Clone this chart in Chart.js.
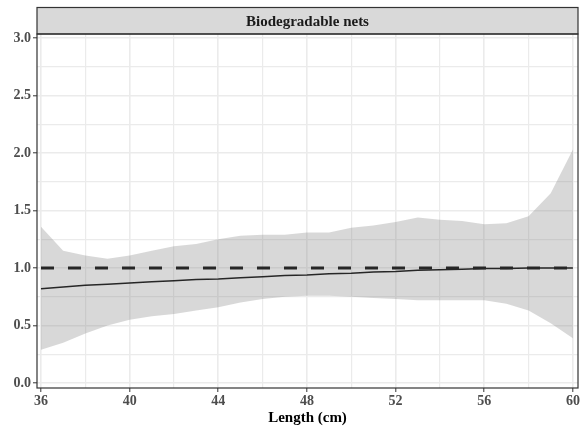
<!DOCTYPE html>
<html>
<head>
<meta charset="utf-8">
<script src="https://cdn.jsdelivr.net/npm/chart.js@4"></script>
<style>
  html, body { margin: 0; padding: 0; background: #fff; }
  #wrap { width: 583px; height: 429px; }
</style>
</head>
<body>
<div id="wrap"><canvas id="hazardChart" width="583" height="429"></canvas></div>
<script>
// values
const lengths = [36, 37, 38, 39, 40, 41, 42, 43, 44, 45, 46, 47, 48, 49, 50, 51, 52, 53, 54, 55, 56, 57, 58, 59, 60];
const upper = [1.36, 1.15, 1.11, 1.08, 1.11, 1.15, 1.19, 1.21, 1.25, 1.28, 1.29, 1.29, 1.31, 1.31, 1.35, 1.37, 1.40, 1.44, 1.42, 1.41, 1.38, 1.39, 1.45, 1.65, 2.03];
const lower = [0.29, 0.35, 0.43, 0.50, 0.55, 0.58, 0.60, 0.63, 0.66, 0.70, 0.73, 0.75, 0.76, 0.76, 0.75, 0.74, 0.73, 0.72, 0.72, 0.72, 0.72, 0.69, 0.63, 0.52, 0.39];
const estimate = [0.82, 0.835, 0.85, 0.86, 0.87, 0.88, 0.89, 0.90, 0.905, 0.915, 0.925, 0.935, 0.94, 0.95, 0.955, 0.965, 0.97, 0.98, 0.985, 0.99, 0.995, 0.997, 1.0, 1.0, 1.0];
const refX = [36, 60];
const refY = [1, 1];

const xMajor = [36, 40, 44, 48, 52, 56, 60];
const xMinor = [38, 42, 46, 50, 54, 58];
const yMajor = [0, 0.5, 1, 1.5, 2, 2.5, 3];
const yMinor = [0.25, 0.75, 1.25, 1.75, 2.25, 2.75];

const stripTitle = "Biodegradable nets";
const xTitle = "Length (cm)";

const pts = (xs, ys) => xs.map((x, i) => ({ x: x, y: ys[i] }));
const tickList = (major, minor) =>
  major.map(v => ({ value: v, major: true })).concat(minor.map(v => ({ value: v, major: false })));

const serif = "'Liberation Serif', 'Times New Roman', serif";

// strip + panel border, like a ggplot facet
const facetFrame = {
  id: "facetFrame",
  afterDraw(chart) {
    const { ctx, chartArea } = chart;
    const top = 7.5;
    ctx.save();
    ctx.fillStyle = "#d9d9d9";
    ctx.fillRect(chartArea.left, top, chartArea.right - chartArea.left, chartArea.top - top);
    ctx.strokeStyle = "#333333";
    ctx.lineWidth = 1.2;
    ctx.strokeRect(chartArea.left, top, chartArea.right - chartArea.left, chartArea.top - top);
    ctx.strokeRect(chartArea.left, chartArea.top, chartArea.right - chartArea.left, chartArea.bottom - chartArea.top);
    ctx.fillStyle = "#1a1a1a";
    ctx.font = "bold 15px " + serif;
    ctx.textAlign = "center";
    ctx.textBaseline = "middle";
    ctx.fillText(stripTitle, (chartArea.left + chartArea.right) / 2, (top + chartArea.top) / 2 + 1);
    ctx.restore();
  },
};

const gridStyle = {
  color: "#ebebeb",
  lineWidth: c => c.tick && c.tick.major ? 1.6 : 1.2,
  tickColor: c => c.tick && c.tick.major ? "#333333" : "rgba(0,0,0,0)",
  tickLength: 4,
  tickWidth: 1,
};

const ctx = document.getElementById("hazardChart").getContext("2d");
new Chart(ctx, {
  type: "line",
  data: {
    datasets: [
      {
        label: "lower",
        data: pts(lengths, lower),
        borderColor: "rgba(0,0,0,0)",
        borderWidth: 0,
        pointRadius: 0,
        fill: false,
      },
      {
        label: "upper",
        data: pts(lengths, upper),
        borderColor: "rgba(0,0,0,0)",
        borderWidth: 0,
        pointRadius: 0,
        backgroundColor: "rgba(127,127,127,0.3)",
        fill: "-1",
      },
      {
        label: "estimate",
        data: pts(lengths, estimate),
        borderColor: "#000",
        borderWidth: 1.5,
        pointRadius: 0,
        fill: false,
      },
      {
        label: "reference",
        data: pts(refX, refY),
        borderColor: "#000",
        borderWidth: 3,
        borderDash: [13, 14],
        pointRadius: 0,
        fill: false,
      },
    ],
  },
  options: {
    responsive: false,
    animation: false,
    layout: { padding: { left: 0, right: 5, top: 34, bottom: 0 } },
    plugins: { legend: { display: false }, tooltip: { enabled: false } },
    scales: {
      x: {
        type: "linear",
        min: 35.82,
        max: 60.23,
        afterBuildTicks: s => { s.ticks = tickList(xMajor, xMinor); },
        afterFit: s => { s.height = 41; },
        border: { display: false },
        grid: gridStyle,
        ticks: {
          autoSkip: false,
          maxRotation: 0,
          padding: 1,
          color: "#4d4d4d",
          font: { family: serif, size: 14, weight: "bold" },
          callback: (v) => xMajor.includes(v) ? String(v) : "",
        },
        title: {
          display: true,
          text: xTitle,
          color: "#000",
          padding: { top: 0, bottom: 2 },
          font: { family: serif, size: 15, weight: "bold" },
        },
      },
      y: {
        min: -0.043,
        max: 3.035,
        afterBuildTicks: s => { s.ticks = tickList(yMajor, yMinor); },
        afterFit: s => { s.width = 37; },
        border: { display: false },
        grid: gridStyle,
        ticks: {
          autoSkip: false,
          padding: 2,
          color: "#4d4d4d",
          font: { family: serif, size: 14, weight: "bold" },
          callback: (v) => yMajor.includes(v) ? v.toFixed(1) : "",
        },
      },
    },
  },
  plugins: [facetFrame],
});
</script>
</body>
</html>
